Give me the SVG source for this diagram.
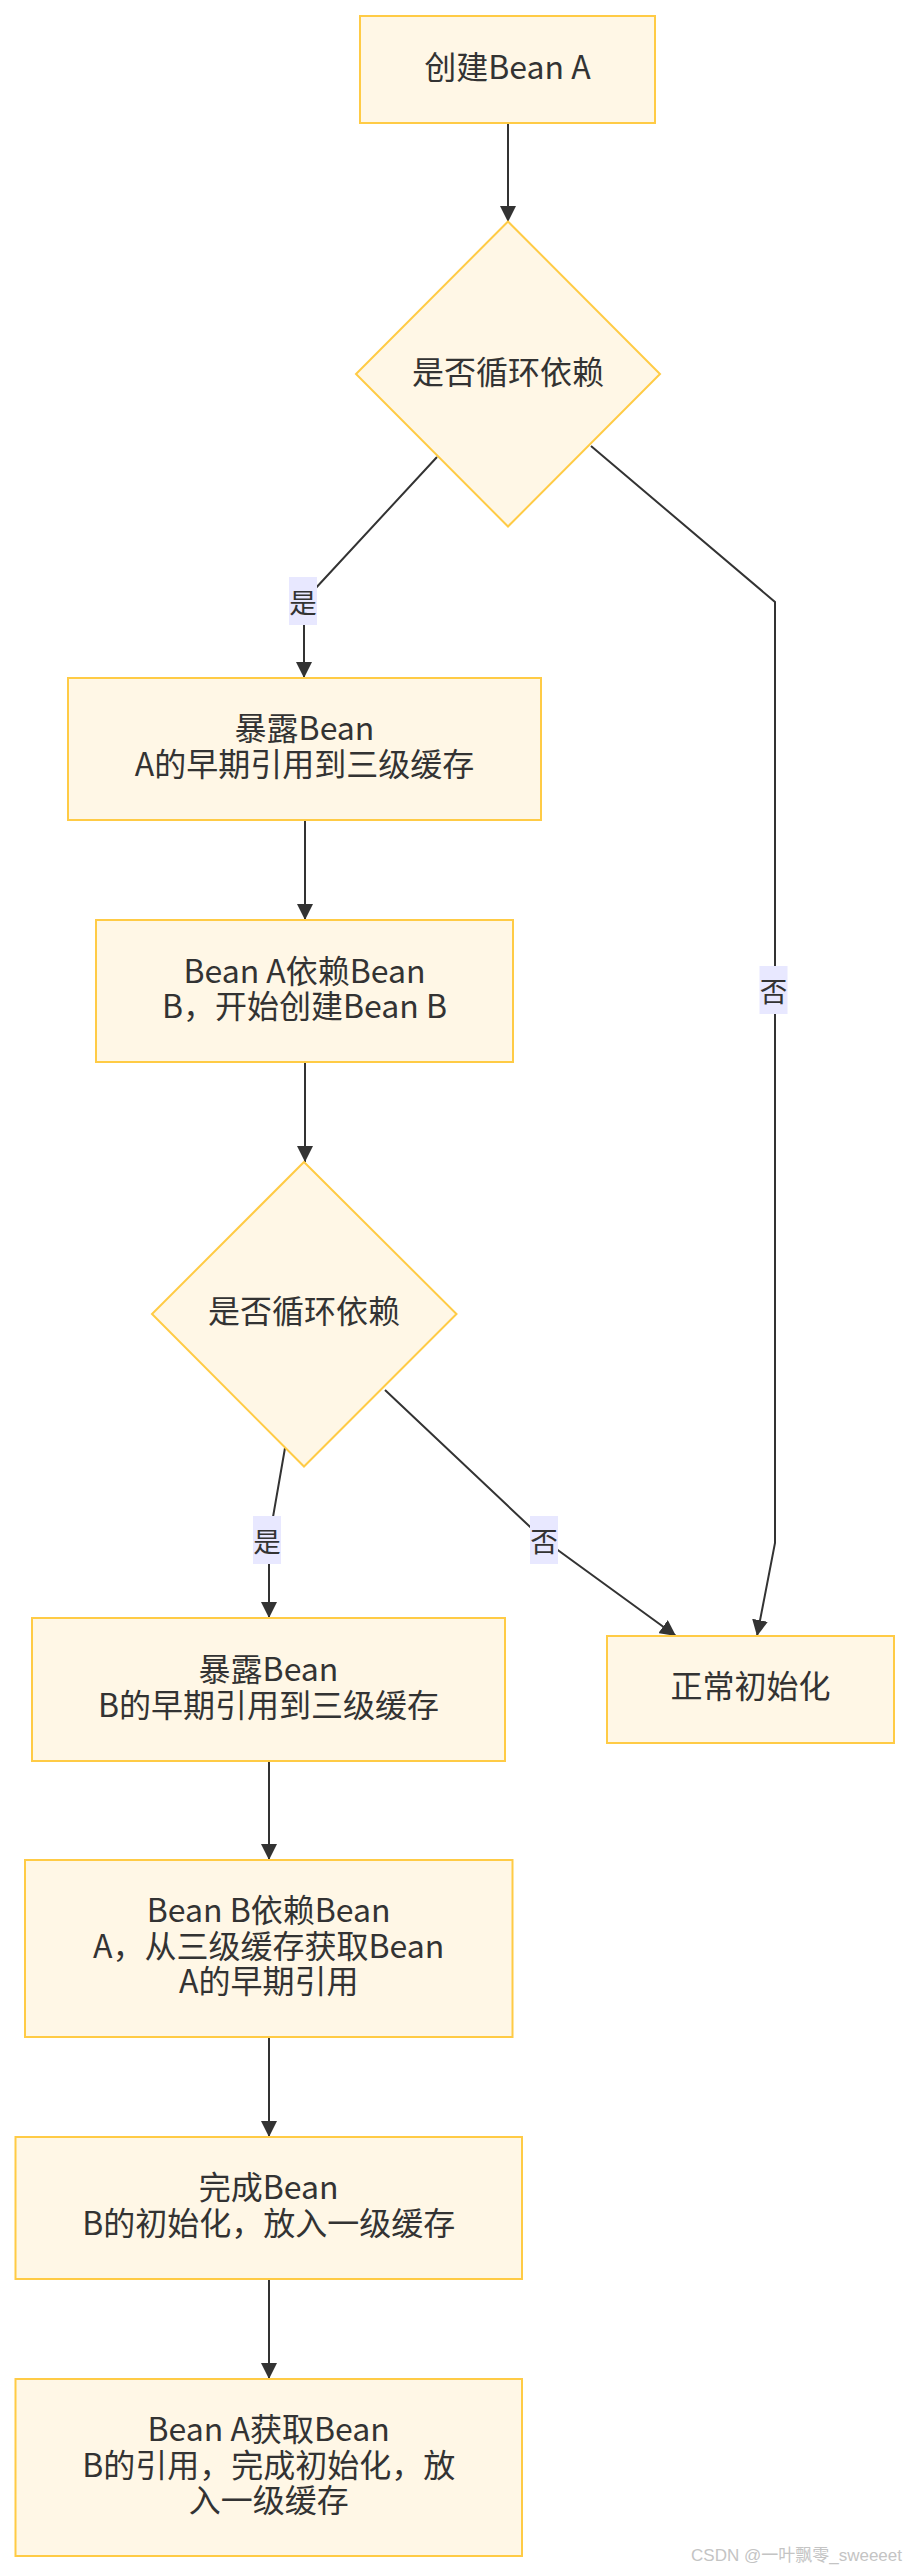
<svg xmlns="http://www.w3.org/2000/svg" width="906" height="2572" viewBox="0 0 906 2572">
<style>
.node rect, .node polygon { fill: #fff7e6; stroke: #ffcb45; stroke-width: 2; }
.node text { font-family: "Noto Sans CJK SC", "Liberation Sans", sans-serif; font-size: 32px; fill: #333333; text-anchor: middle; }
.edge { fill: none; stroke: #333333; stroke-width: 2; }
.elabel rect { fill: #e8e8ff; stroke: none; }
.elabel text { font-family: "Noto Sans CJK SC", "Liberation Sans", sans-serif; font-size: 27.5px; fill: #333333; text-anchor: middle; }
.wm { font-family: "Liberation Sans", "Noto Sans CJK SC", sans-serif; font-size: 17px; fill: #c4c4c4; text-anchor: end; }
</style>
<defs>
<marker id="arrow" viewBox="0 0 16 16" refX="16" refY="8" markerWidth="16" markerHeight="16" markerUnits="userSpaceOnUse" orient="auto">
<path d="M0,0 L16,8 L0,16 z" fill="#333333"/>
</marker>
</defs>
<rect x="0" y="0" width="906" height="2572" fill="#ffffff"/>

<g id="connectors">
<path class="edge" d="M508,123 L508,222" marker-end="url(#arrow)"/>
<path class="edge" d="M437,457 L314,590 Q304,601 304,615 L304,678" marker-end="url(#arrow)"/>
<path class="edge" d="M591,446 L775,602 L775,1543 L757,1636" marker-end="url(#arrow)"/>
<path class="edge" d="M305,821 L305,920" marker-end="url(#arrow)"/>
<path class="edge" d="M305,1062 L305,1162" marker-end="url(#arrow)"/>
<path class="edge" d="M285,1448 L269,1540 L269,1618" marker-end="url(#arrow)"/>
<path class="edge" d="M385,1390 L544,1540 L676,1636" marker-end="url(#arrow)"/>
<path class="edge" d="M269,1761 L269,1860" marker-end="url(#arrow)"/>
<path class="edge" d="M269,2037 L269,2137" marker-end="url(#arrow)"/>
<path class="edge" d="M269,2279 L269,2379" marker-end="url(#arrow)"/>
<g class="elabel" id="label-yes1"><rect x="289" y="577" width="28" height="48"/><text x="303" y="613">是</text></g>
<g class="elabel" id="label-no1"><rect x="759.5" y="966" width="28" height="48"/><text x="773.5" y="1002">否</text></g>
<g class="elabel" id="label-yes2"><rect x="253" y="1516" width="28" height="48"/><text x="267" y="1552">是</text></g>
<g class="elabel" id="label-no2"><rect x="530" y="1516" width="28" height="48"/><text x="544" y="1552">否</text></g>
</g>

<g id="n1" class="node"><rect x="360" y="16" width="295" height="107"/><text x="507.5" y="79">创建Bean A</text></g>
<g id="n2" class="node"><polygon points="508,221.5 660,374 508,526.5 356,374"/><text x="508" y="384">是否循环依赖</text></g>
<g id="n3" class="node"><rect x="68" y="678" width="473" height="142"/><text x="304.5" y="740">暴露Bean</text><text x="304.5" y="776">A的早期引用到三级缓存</text></g>
<g id="n4" class="node"><rect x="96" y="920" width="417" height="142"/><text x="304.5" y="983">Bean A依赖Bean</text><text x="304.5" y="1018">B，开始创建Bean B</text></g>
<g id="n5" class="node"><polygon points="304,1162 456.5,1314 304,1466.5 152,1314"/><text x="304" y="1323">是否循环依赖</text></g>
<g id="n6" class="node"><rect x="32" y="1618" width="473" height="143"/><text x="268.5" y="1681">暴露Bean</text><text x="268.5" y="1717">B的早期引用到三级缓存</text></g>
<g id="n7" class="node"><rect x="607" y="1636" width="287" height="107"/><text x="750.5" y="1698">正常初始化</text></g>
<g id="n8" class="node"><rect x="25" y="1860" width="487.5" height="177"/><text x="268.7" y="1922">Bean B依赖Bean</text><text x="268.7" y="1957.5">A，从三级缓存获取Bean</text><text x="268.7" y="1993">A的早期引用</text></g>
<g id="n9" class="node"><rect x="15.5" y="2137" width="506.5" height="142"/><text x="268.7" y="2199">完成Bean</text><text x="268.7" y="2235">B的初始化，放入一级缓存</text></g>
<g id="n10" class="node"><rect x="15.5" y="2379" width="506.5" height="177"/><text x="268.7" y="2441">Bean A获取Bean</text><text x="268.7" y="2476.5">B的引用，完成初始化，放</text><text x="268.7" y="2512">入一级缓存</text></g>

<text class="wm" x="902" y="2561">CSDN @一叶飘零_sweeeet</text>
</svg>
